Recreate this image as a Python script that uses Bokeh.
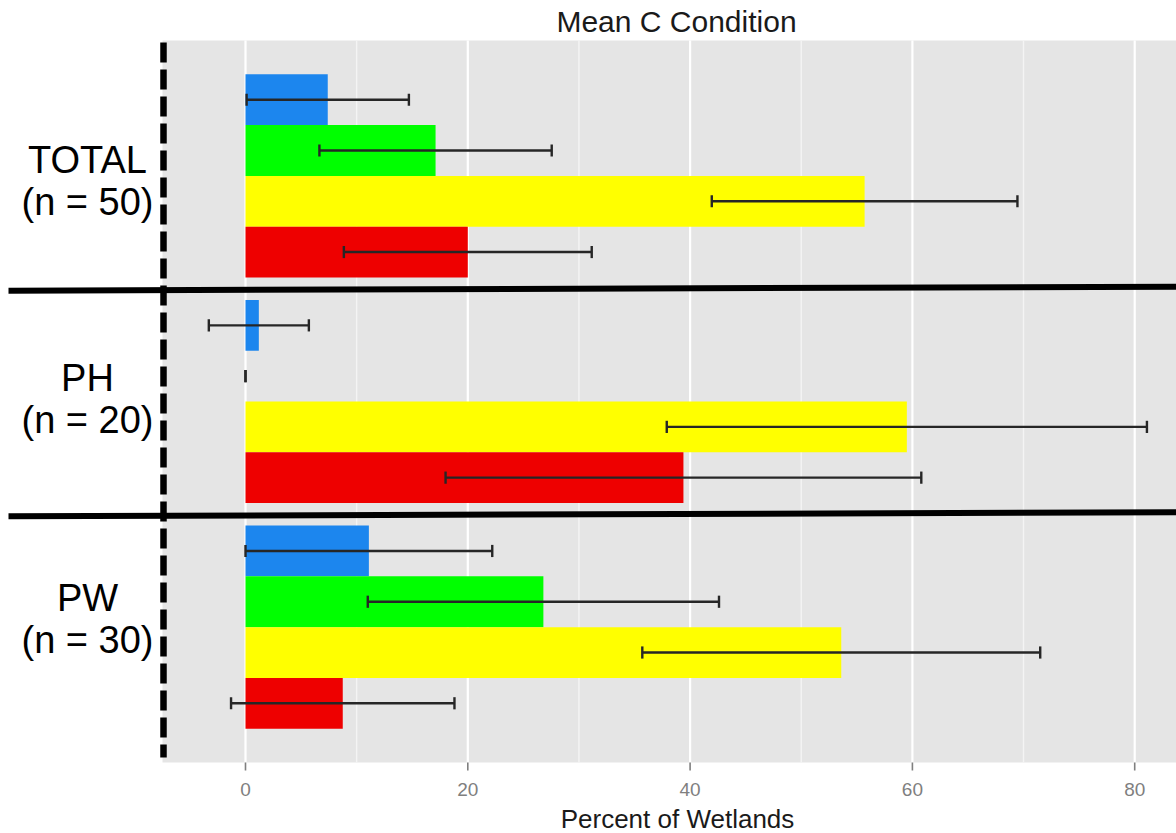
from bokeh.plotting import figure
from bokeh.models import Range1d, ColumnDataSource
from bokeh.core.properties import value
from bokeh.embed import file_html
from bokeh.resources import INLINE

# ---------------------------------------------------------------- data
GROUPS = ["TOTAL", "PH", "PW"]            # drawn top to bottom
GROUP_N = [50, 20, 30]
SERIES_COLORS = ["#1C86EE", "#00FF00", "#FFFF00", "#EE0000"]

# mean percent of wetlands per series, in GROUPS order
blue_mean = [7.4, 1.2, 11.1]
green_mean = [17.1, 0.0, 26.8]
yellow_mean = [55.7, 59.5, 53.6]
red_mean = [20.0, 39.4, 8.75]

# error bar half-widths, in GROUPS order
blue_err = [7.3, 4.5, 11.1]
green_err = [10.45, 0.0, 15.8]
yellow_err = [13.75, 21.6, 17.9]
red_err = [11.15, 21.4, 10.05]

X_TICKS = [0, 20, 40, 60, 80]
X_MINOR = [10, 30, 50, 70]
TITLE = "Mean C Condition"
X_TITLE = "Percent of Wetlands"

# ---------------------------------------------------------------- layout
W, H = 1176, 833
X_ORIGIN_PX = 245.0          # where 0 % sits on the canvas
PX_PER_PCT = 11.115
PANEL_LEFT_PX = 162.0
PANEL_TOP_PX, PANEL_BOTTOM_PX = 40.0, 762.0
Y_LO, Y_HI = 0.4, 3.6        # discrete axis with 0.6 padding around 1..3
PX_PER_Y = (PANEL_BOTTOM_PX - PANEL_TOP_PX) / (Y_HI - Y_LO)


def xd(px):
    return (px - X_ORIGIN_PX) / PX_PER_PCT


def yd(py):
    return Y_HI - (py - PANEL_TOP_PX) / PX_PER_Y


x_range = Range1d(xd(0), xd(W))
y_range = Range1d(yd(H), yd(0))

p = figure(width=W, height=H, x_range=x_range, y_range=y_range,
           output_backend="svg", toolbar_location=None,
           x_axis_location=None, y_axis_location=None,
           min_border=0, min_border_left=0, min_border_right=0,
           min_border_top=0, min_border_bottom=0,
           background_fill_color="white", border_fill_color="white",
           outline_line_color=None)
p.xgrid.visible = False
p.ygrid.visible = False

FONT = value("Liberation Sans")

# panel background
p.quad(left=xd(PANEL_LEFT_PX), right=x_range.end, bottom=Y_LO, top=Y_HI,
       fill_color="#E5E5E5", line_color=None)

# vertical grid lines
p.segment(x0=X_MINOR, x1=X_MINOR, y0=[Y_LO] * len(X_MINOR), y1=[Y_HI] * len(X_MINOR),
          line_color="#F4F4F4", line_width=1.4)
p.segment(x0=X_TICKS, x1=X_TICKS, y0=[Y_LO] * len(X_TICKS), y1=[Y_HI] * len(X_TICKS),
          line_color="white", line_width=2.2)

# bars, dodged inside each group
group_y = [len(GROUPS) - i for i in range(len(GROUPS))]   # TOTAL=3, PH=2, PW=1
means = [blue_mean, green_mean, yellow_mean, red_mean]
errs = [blue_err, green_err, yellow_err, red_err]
n_series = len(means)
bar_h = 0.9 / n_series
offsets = [0.45 - bar_h * (k + 0.5) for k in range(n_series)]

for k in range(n_series):
    ys = [g + offsets[k] for g in group_y]
    src = ColumnDataSource(dict(y=ys, right=means[k]))
    p.hbar(y="y", left=0, right="right", height=bar_h, source=src,
           fill_color=SERIES_COLORS[k], line_color=None)

# error bars
cap = 0.027
ex0, ex1, ey = [], [], []
cx, cy0, cy1 = [], [], []
for k in range(n_series):
    for gi, g in enumerate(group_y):
        y = g + offsets[k]
        lo = means[k][gi] - errs[k][gi]
        hi = means[k][gi] + errs[k][gi]
        ex0.append(lo)
        ex1.append(hi)
        ey.append(y)
        cx += [lo, hi]
        cy0 += [y - cap, y - cap]
        cy1 += [y + cap, y + cap]
p.segment(x0=ex0, x1=ex1, y0=ey, y1=ey, line_color="#262626", line_width=2.4)
p.segment(x0=cx, x1=cx, y0=cy0, y1=cy1, line_color="#262626", line_width=2.4)

# black separators between the groups, running into the label column
sep_y = [g - 0.5 for g in group_y[:-1]]
tilt = 2.0 / PX_PER_Y
p.segment(x0=[xd(8)] * len(sep_y), x1=[x_range.end] * len(sep_y),
          y0=[s - tilt for s in sep_y], y1=[s + tilt for s in sep_y],
          line_color="black", line_width=6)

# dashed divider between labels and panel
p.segment(x0=[xd(163)], x1=[xd(163)], y0=[yd(42)], y1=[yd(757)],
          line_color="black", line_width=6.5, line_dash="20 7")

# group labels (vertical centres of the two lines, in canvas pixels)
LABEL_X_PX = 87
LABEL_CENTER_PX = [159, 377, 597]
LINE_GAP_PX = 42
p.text(x=[xd(LABEL_X_PX)] * len(GROUPS), y=[yd(c) for c in LABEL_CENTER_PX],
       text=GROUPS, text_font=FONT, text_font_size=value("38px"),
       text_align="center", text_baseline="middle", text_color="black")
p.text(x=[xd(LABEL_X_PX)] * len(GROUPS),
       y=[yd(c + LINE_GAP_PX) for c in LABEL_CENTER_PX],
       text=[f"(n = {n})" for n in GROUP_N], text_font=FONT,
       text_font_size=value("38px"), text_align="center",
       text_baseline="middle", text_color="black")

# x axis: ticks, tick labels, title
p.segment(x0=X_TICKS, x1=X_TICKS, y0=[yd(PANEL_BOTTOM_PX)] * len(X_TICKS),
          y1=[yd(PANEL_BOTTOM_PX + 8)] * len(X_TICKS),
          line_color="#7F7F7F", line_width=1.6)
p.text(x=X_TICKS, y=[yd(789)] * len(X_TICKS), text=[str(t) for t in X_TICKS],
       text_font=FONT, text_font_size=value("19px"), text_align="center",
       text_baseline="middle", text_color="#7F7F7F")
p.text(x=[xd(677)], y=[yd(818)], text=[X_TITLE], text_font=FONT,
       text_font_size=value("26px"), text_align="center",
       text_baseline="middle", text_color="#1A1A1A")

# chart title
p.text(x=[xd(676)], y=[yd(21)], text=[TITLE], text_font=FONT,
       text_font_size=value("30px"), text_align="center",
       text_baseline="middle", text_color="#1A1A1A")

open("out.html", "w").write(file_html(p, INLINE))
